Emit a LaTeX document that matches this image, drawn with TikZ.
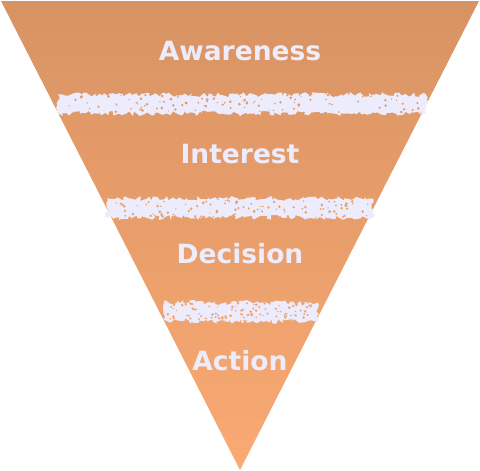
\documentclass[tikz,border=0pt]{standalone}
\usepackage{fontspec}
\usetikzlibrary{decorations.pathmorphing}
\newfontfamily\funnelfont{DejaVu Sans}
\definecolor{funneltop}{RGB}{216, 147, 99}
\definecolor{funnelbottom}{RGB}{250, 170, 115}
\definecolor{chalk}{RGB}{236, 236, 252}

\begin{document}
\begin{tikzpicture}[
    x=1pt, y=-1pt,
    stagelabel/.style={font=\funnelfont\bfseries\fontsize{26.5}{30}\selectfont, text=chalk, inner sep=0pt},
    chalkband/.style={fill=chalk, decorate, decoration={random steps, segment length=2.5pt, amplitude=2.5pt}}
]
  \useasboundingbox (0,0) rectangle (480,471);
  \fill[white] (0,0) rectangle (480,471);

  % funnel body
  \shade[top color=funneltop, bottom color=funnelbottom] (1,1) -- (479,1) -- (240,470) -- cycle;

  % chalk bands
  \pgfmathsetseed{11}
  \foreach \by/\bl/\br/\sc in {104/58/426/funneltop!70!funnelbottom, 208/107/373/funneltop!45!funnelbottom, 312/163/318/funneltop!25!funnelbottom} {
    \path[chalkband] (\bl,\by-9.5) -- (\br,\by-9.5) -- (\br,\by+9.5) -- (\bl,\by+9.5) -- cycle;
    \foreach \i in {1,...,110} {
      \pgfmathsetmacro\sx{\bl+4+rnd*(\br-\bl-8)}
      \pgfmathsetmacro\sy{\by-9+rnd*18}
      \pgfmathsetmacro\sr{0.6+rnd*0.9}
      \fill[\sc] (\sx,\sy) circle (\sr);
    }
  }

  % stages
  \node[stagelabel] (awareness) at (240,51) {Awareness};
  \node[stagelabel] (interest) at (240,154) {Interest};
  \node[stagelabel] (decision) at (240,254) {Decision};
  \node[stagelabel] (action) at (240,361) {Action};
\end{tikzpicture}
\end{document}
